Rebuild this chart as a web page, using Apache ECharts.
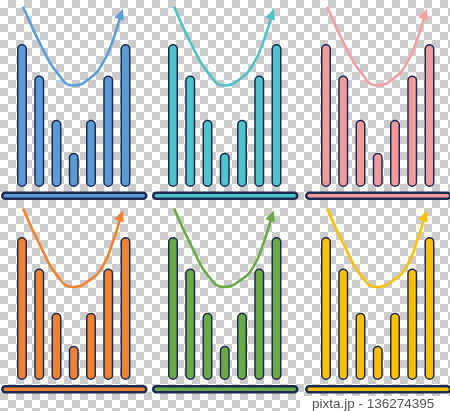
<!DOCTYPE html>
<html><head><meta charset="utf-8">
<script src="https://cdn.jsdelivr.net/npm/echarts@6/dist/echarts.min.js"></script>
<style>html,body{margin:0;padding:0;}#c{width:450px;height:411px;}</style>
</head><body><div id="c"></div>
<script>
// ---- data ----
const barPositions = [1, 2, 3, 4, 5, 6, 7];
const barValues = [100, 78, 47, 24, 47, 78, 100];
const curveXTop = [1.06, 2.22, 3.03, 3.96, 4.94, 5.70, 6.28, 6.74];
const curveYTop = [126, 96, 80, 71, 76, 87, 103, 121];
const curveXBottom = [1.06, 2.22, 3.03, 3.96, 4.94, 5.70, 6.28, 6.74];
const curveYBottom = [120, 90, 73, 65, 70, 80, 97, 115];
const barColors = ['#5b9bd5', '#4fc3c9', '#f29b9b', '#f08232', '#6aaa46', '#ffc000'];
const curveColors = ['#5b9fd8', '#52c2c9', '#f4a0a0', '#f08232', '#6aaa46', '#ffc000'];
const outline = '#1d2b53';
const watermark = 'pixta.jp - 136274395';

// ---- layout ----
const panelX = [0, 151, 304];
const rowBase = [187, 380];
const unitX = 17.25, pxPerUnit = 1.43, yMax = 130;

function checker() {
  const c = document.createElement('canvas');
  c.width = 16; c.height = 16;
  const g = c.getContext('2d');
  g.fillStyle = '#ffffff'; g.fillRect(0, 0, 16, 16);
  g.fillStyle = '#cccccc'; g.fillRect(8, 0, 8, 8); g.fillRect(0, 8, 8, 8);
  return c;
}

const grids = [], xAxes = [], yAxes = [], series = [], graphics = [];
for (let i = 0; i < 6; i++) {
  const row = Math.floor(i / 3), col = i % 3;
  const ox = panelX[col];
  const base = rowBase[row];
  grids.push({left: ox + 22 - unitX, width: unitX * 8, top: base - yMax * pxPerUnit, height: yMax * pxPerUnit});
  xAxes.push({type: 'value', gridIndex: i, min: 0, max: 8, show: false});
  yAxes.push({type: 'value', gridIndex: i, min: 0, max: yMax, show: false});
  series.push({
    type: 'bar', xAxisIndex: i, yAxisIndex: i, barWidth: 10, clip: false,
    data: barPositions.map((p, k) => [p, barValues[k]]),
    itemStyle: {color: barColors[i], borderColor: outline, borderWidth: 1.5, borderRadius: 5},
    silent: true
  });
  const cx = row === 0 ? curveXTop : curveXBottom;
  const cy = row === 0 ? curveYTop : curveYBottom;
  series.push({
    type: 'line', xAxisIndex: i, yAxisIndex: i, smooth: true, clip: false, symbol: 'none',
    lineStyle: {color: curveColors[i], width: 2.6},
    itemStyle: {color: curveColors[i]},
    data: cx.map((x, k) => k === cx.length - 1
      ? {value: [x, cy[k]], symbol: 'triangle', symbolSize: [10, 11], symbolRotate: -20}
      : [x, cy[k]]),
    z: 3, silent: true
  });
  graphics.push({
    type: 'rect', left: ox + 1, top: row === 0 ? 191.5 : 385,
    shape: {width: 144, height: 6, r: 3},
    style: {fill: barColors[i], stroke: outline, lineWidth: 2.5}
  });
}
graphics.push({type: 'rect', left: 300, top: 396, shape: {width: 150, height: 15}, style: {fill: '#ffffff'}, z: -1});
graphics.push({type: 'text', left: 312, top: 397,
  style: {text: watermark, fill: '#555555', font: '13.5px "Liberation Sans", Arial, sans-serif'}});

const chart = echarts.init(document.getElementById('c'), null, {renderer: 'canvas'});
chart.setOption({
  animation: false,
  backgroundColor: {image: checker(), repeat: 'repeat'},
  grid: grids, xAxis: xAxes, yAxis: yAxes, series: series, graphic: graphics
});
</script></body></html>
